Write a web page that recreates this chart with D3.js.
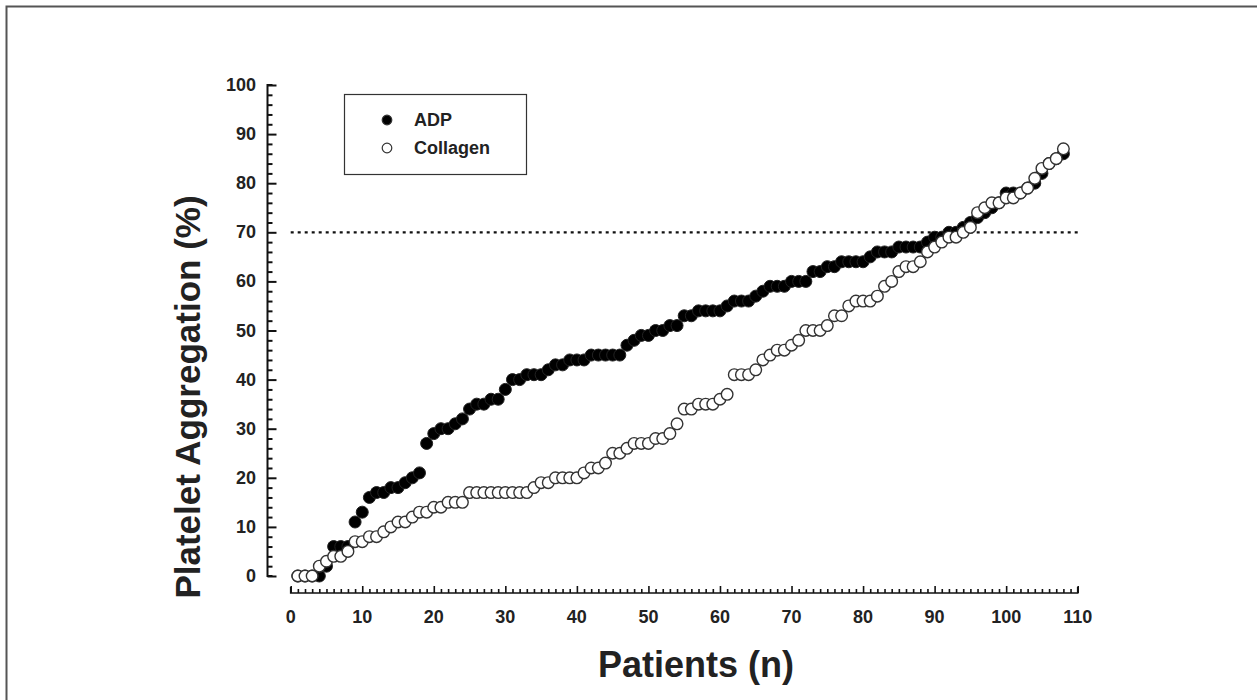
<!DOCTYPE html>
<html>
<head>
<meta charset="utf-8">
<script src="https://cdn.jsdelivr.net/npm/d3@7"></script>
<style>
  body { margin: 0; background: #fff; }
  svg { display: block; font-family: "Liberation Sans", Arial, sans-serif; }
  .tick-label { font-size: 18px; font-weight: bold; fill: #222; }
</style>
</head>
<body>
<div id="chart"></div>
<script>
const W = 1257, H = 700;

// values, sorted per series (patient 1..108)
const adpValues = [
  0, 0, 0, 0, 2, 6, 6, 6, 11, 13, 16, 17, 17, 18, 18, 19, 20, 21, 27, 29,
  30, 30, 31, 32, 34, 35, 35, 36, 36, 38, 40, 40, 41, 41, 41, 42, 43, 43, 44, 44,
  44, 45, 45, 45, 45, 45, 47, 48, 49, 49, 50, 50, 51, 51, 53, 53, 54, 54, 54, 54,
  55, 56, 56, 56, 57, 58, 59, 59, 59, 60, 60, 60, 62, 62, 63, 63, 64, 64, 64, 64,
  65, 66, 66, 66, 67, 67, 67, 67, 68, 69, 69, 70, 70, 71, 72, 73, 74, 75, 76, 78,
  78, 78, 79, 80, 82, 84, 85, 86
];
const collagenValues = [
  0, 0, 0, 2, 3, 4, 4, 5, 7, 7, 8, 8, 9, 10, 11, 11, 12, 13, 13, 14,
  14, 15, 15, 15, 17, 17, 17, 17, 17, 17, 17, 17, 17, 18, 19, 19, 20, 20, 20, 20,
  21, 22, 22, 23, 25, 25, 26, 27, 27, 27, 28, 28, 29, 31, 34, 34, 35, 35, 35, 36,
  37, 41, 41, 41, 42, 44, 45, 46, 46, 47, 48, 50, 50, 50, 51, 53, 53, 55, 56, 56,
  56, 57, 59, 60, 62, 63, 63, 64, 66, 67, 68, 69, 69, 70, 71, 74, 75, 76, 76, 77,
  77, 78, 79, 81, 83, 84, 85, 87
];
const xTicks = [0, 10, 20, 30, 40, 50, 60, 70, 80, 90, 100, 110];
const yTicks = [0, 10, 20, 30, 40, 50, 60, 70, 80, 90, 100];
const cutoff = 70;
const legendItems = ["ADP", "Collagen"];

const x = d3.scaleLinear().domain([0, 110]).range([290.7, 1077.7]);
const y = d3.scaleLinear().domain([0, 100]).range([576, 85]);

const svg = d3.select("#chart").append("svg")
  .attr("width", W)
  .attr("height", H);

// frame of the figure panel
svg.append("path")
  .attr("d", `M6.5,${H} L6.5,6.5 L${W},6.5`)
  .attr("fill", "none")
  .attr("stroke", "#555")
  .attr("stroke-width", 2);

// y axis (ticks point inward)
const yAxisG = svg.append("g").attr("transform", "translate(267.5,0)");
yAxisG.call(d3.axisRight(y).tickValues(d3.range(0, 101, 2)).tickSize(5).tickFormat(""));
yAxisG.selectAll(".tick line")
  .attr("x2", d => d % 10 === 0 ? 9 : 5);
yAxisG.select(".domain").attr("d", `M5,${y(0)}H0V${y(100)}H5`);
yAxisG.selectAll("path, line").attr("stroke", "#111").attr("stroke-width", 2);
svg.append("g").selectAll("text")
  .data(yTicks)
  .enter()
  .append("text")
  .attr("class", "tick-label")
  .attr("x", 256)
  .attr("y", d => y(d) + 6)
  .attr("text-anchor", "end")
  .text(d => d);

// x axis (ticks point up)
const xAxisG = svg.append("g").attr("transform", "translate(0,593)");
xAxisG.call(d3.axisTop(x).tickValues(d3.range(0, 111, 1)).tickSize(4).tickFormat(""));
xAxisG.selectAll(".tick line")
  .attr("y2", d => d % 10 === 0 ? -7 : -4);
xAxisG.select(".domain").attr("d", `M${x(0)},-6V0H${x(110)}V-6`);
xAxisG.selectAll("path, line").attr("stroke", "#111").attr("stroke-width", 1.6);
svg.append("g").selectAll("text")
  .data(xTicks)
  .enter()
  .append("text")
  .attr("class", "tick-label")
  .attr("x", d => x(d))
  .attr("y", 623)
  .attr("text-anchor", "middle")
  .text(d => d);

// axis titles
svg.append("text")
  .attr("transform", `translate(200,397) rotate(-90)`)
  .attr("text-anchor", "middle")
  .style("font-size", "35px")
  .style("font-weight", "bold")
  .style("fill", "#222")
  .text("Platelet Aggregation (%)");

svg.append("text")
  .attr("x", 696)
  .attr("y", 677)
  .attr("text-anchor", "middle")
  .style("font-size", "36px")
  .style("font-weight", "bold")
  .style("fill", "#222")
  .text("Patients (n)");

// 70% cut-off line
svg.append("line")
  .attr("x1", x(0))
  .attr("x2", x(110.5))
  .attr("y1", y(cutoff))
  .attr("y2", y(cutoff))
  .attr("stroke", "#111")
  .attr("stroke-width", 2.2)
  .attr("stroke-dasharray", "3,4");

// points: ADP filled, collagen open on top
svg.append("g").selectAll("circle")
  .data(adpValues)
  .enter()
  .append("circle")
  .attr("cx", (d, i) => x(i + 1))
  .attr("cy", d => y(d))
  .attr("r", 6)
  .attr("fill", "#000")
  .attr("stroke", "#222")
  .attr("stroke-width", 1);

svg.append("g").selectAll("circle")
  .data(collagenValues)
  .enter()
  .append("circle")
  .attr("cx", (d, i) => x(i + 1))
  .attr("cy", d => y(d))
  .attr("r", 5.8)
  .attr("fill", "#fff")
  .attr("stroke", "#333")
  .attr("stroke-width", 1.4);

// legend
const legend = svg.append("g");
legend.append("rect")
  .attr("x", 344.5)
  .attr("y", 94.5)
  .attr("width", 182)
  .attr("height", 80)
  .attr("fill", "#fff")
  .attr("stroke", "#333")
  .attr("stroke-width", 1.2);

legend.selectAll("circle")
  .data(legendItems)
  .enter()
  .append("circle")
  .attr("cx", 387)
  .attr("cy", (d, i) => 120 + i * 28)
  .attr("r", 4.8)
  .attr("fill", (d, i) => i === 0 ? "#000" : "#fff")
  .attr("stroke", "#333")
  .attr("stroke-width", 1.2);

legend.selectAll("text")
  .data(legendItems)
  .enter()
  .append("text")
  .attr("x", 414)
  .attr("y", (d, i) => 126 + i * 28)
  .style("font-size", "18px")
  .style("font-weight", "bold")
  .style("fill", "#222")
  .text(d => d);
</script>
</body>
</html>
